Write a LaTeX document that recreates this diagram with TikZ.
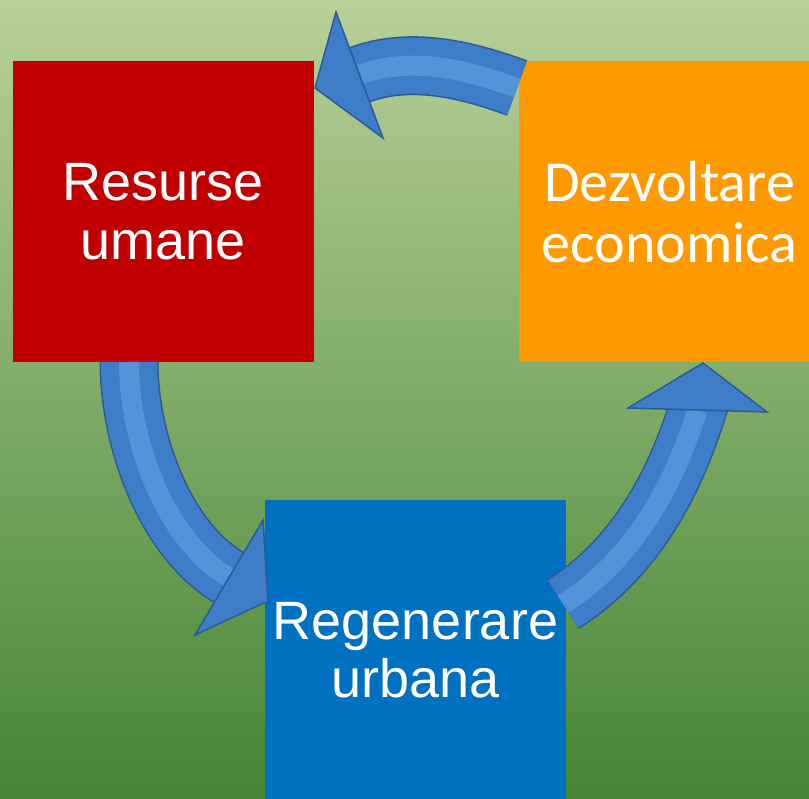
\documentclass[tikz,border=0pt]{standalone}
\usepackage{fontspec}
\newfontfamily\arialf{Liberation Sans}
\newfontfamily\calf{Carlito}
\definecolor{bgtop}{RGB}{184,208,153}
\definecolor{bgbot}{RGB}{70,133,52}
\definecolor{redbox}{RGB}{192,0,0}
\definecolor{orangebox}{RGB}{255,153,0}
\definecolor{bluebox}{RGB}{0,112,192}
\definecolor{arrmain}{RGB}{62,125,200}
\definecolor{arrdark}{RGB}{44,90,150}
\definecolor{arrlight}{RGB}{105,165,228}
\tikzset{
  box/.style={minimum width=301pt, minimum height=301pt, inner sep=0pt, outer sep=0pt, text=white, align=center},
  arrout/.style={draw=arrdark, line width=59pt},
  arrbody/.style={draw=arrmain, line width=56pt},
  arrband/.style={draw=arrlight, line width=20pt, opacity=0.55},
  arrhead/.style={fill=arrmain, draw=arrdark, line width=1.5pt, line join=miter},
  arrshadow/.style={draw=black, opacity=0.15, line width=58pt},
  headshadow/.style={fill=black, opacity=0.15},
}
\begin{document}
\begin{tikzpicture}[x=1pt,y=-1pt]
\useasboundingbox (0,0) rectangle (809,799);
\fill[top color=bgtop, bottom color=bgbot] (0,0) rectangle (809,799);
\begin{scope}
\clip (0,0) rectangle (809,799);
\node[box, fill=redbox, font=\arialf\fontsize{54}{59}\selectfont] (res) at (163,212) {Resurse\\umane};
\node[box, fill=orangebox, font=\calf\fontsize{58}{61}\selectfont] (dez) at (669.5,212) {Dezvoltare\\economica};
\node[box, fill=bluebox, font=\arialf\fontsize{54}{58}\selectfont] (reg) at (415.5,650.5) {Regenerare\\urbana};

% top arrow: Dezvoltare -> Resurse
\coordinate (tS) at (517,88);
\coordinate (tA) at (465,69);
\coordinate (tB) at (410,56);
\coordinate (tE) at (359,75);
\coordinate (tX) at (351.5,77.7);
\coordinate (tH1) at (336,12);
\coordinate (tT) at (315,88);
\coordinate (tH2) at (383,138);
% left arrow: Resurse -> Regenerare
\coordinate (lS) at (129,362);
\coordinate (lA) at (129,440);
\coordinate (lB) at (164.4,539);
\coordinate (lE) at (229,577.5);
\coordinate (lX) at (235.9,581.6);
\coordinate (lH1) at (263,520);
\coordinate (lT) at (268,601);
\coordinate (lH2) at (195,635);
% right arrow: Regenerare -> Dezvoltare
\coordinate (rS) at (563,604);
\coordinate (rA) at (648,551);
\coordinate (rB) at (682,458);
\coordinate (rE) at (697.5,410);
\coordinate (rX) at (700.5,400.5);
\coordinate (rH1) at (628,408);
\coordinate (rT) at (703,363);
\coordinate (rH2) at (767,412);

\foreach \p in {t,l,r}{
  \begin{scope}[shift={(4,5)}]
    \draw[arrshadow] (\p S) .. controls (\p A) and (\p B) .. (\p E) -- (\p X);
    \fill[headshadow] (\p H1) -- (\p T) -- (\p H2) -- cycle;
  \end{scope}
  \draw[arrout] (\p S) .. controls (\p A) and (\p B) .. (\p E) -- (\p X);
  \draw[arrbody] (\p S) .. controls (\p A) and (\p B) .. (\p E) -- (\p X);
  \draw[arrband] (\p S) .. controls (\p A) and (\p B) .. (\p E);
  \filldraw[arrhead] (\p H1) -- (\p T) -- (\p H2) -- cycle;
}
\end{scope}
\end{tikzpicture}
\end{document}
